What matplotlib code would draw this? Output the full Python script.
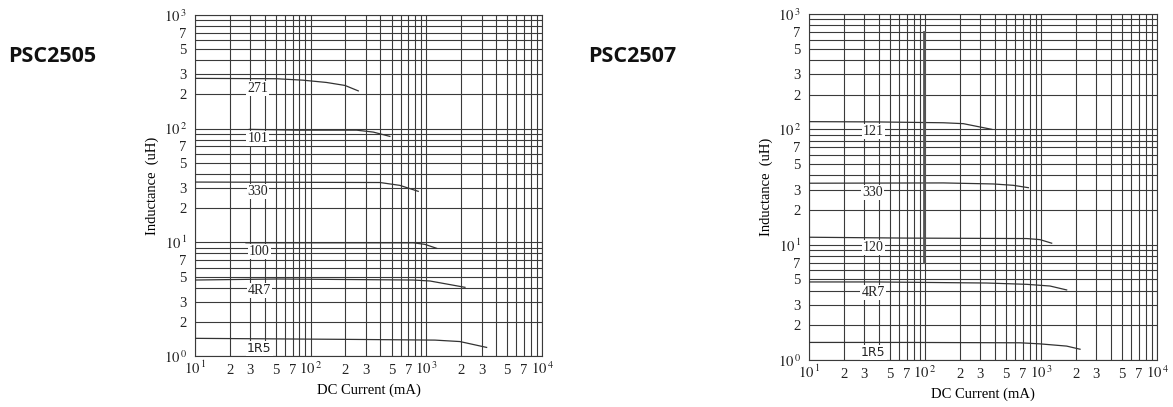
import matplotlib
matplotlib.use("Agg")
import matplotlib.pyplot as plt
from matplotlib.ticker import FixedLocator, FuncFormatter

plt.rcParams['font.family'] = ['Liberation Serif', 'DejaVu Serif']
plt.rcParams['mathtext.fontset'] = 'stix'

# ---------------- data: PSC2505 ----------------
c2505_271_x = [10, 50.8, 86, 137, 198, 258]
c2505_271_y = [277, 275, 267, 255, 240, 215]
c2505_101_x = [29.5, 75.6, 250, 348, 484]
c2505_101_y = [98.6, 97, 97, 93.3, 85.5]
c2505_330_x = [10, 397, 591, 851]
c2505_330_y = [33.9, 33.6, 31.7, 28.1]
c2505_100_x = [27.6, 771, 973, 1227]
c2505_100_y = [9.9, 9.9, 9.6, 8.86]
c2505_4R7_x = [10, 50.8, 771, 1075, 2157]
c2505_4R7_y = [4.66, 4.76, 4.66, 4.57, 4.02]
c2505_1R5_x = [10, 219, 1186, 1950, 3320]
c2505_1R5_y = [1.43, 1.40, 1.38, 1.34, 1.19]
labels_2505 = ["271", "101", "330", "100", "4R7", "1R5"]
label_x_2505 = [35, 35, 35, 36, 36, 36]
label_y_2505 = [226, 82, 27.9, 8.27, 3.75, 1.17]

# ---------------- data: PSC2507 ----------------
c2507_121_x = [10, 37, 144, 214, 376]
c2507_121_y = [116.6, 116, 114, 112, 100]
c2507_330_x = [10, 144, 388, 577, 778]
c2507_330_y = [34.1, 34.3, 33.6, 32.7, 31.2]
c2507_120_x = [10, 71.8, 753, 980, 1236]
c2507_120_y = [11.6, 11.4, 11.3, 11.06, 10.3]
c2507_4R7_x = [10, 37, 340, 753, 1196, 1664]
c2507_4R7_y = [4.75, 4.75, 4.65, 4.53, 4.38, 4.05]
c2507_1R5_x = [10, 70, 659, 980, 1664, 2170]
c2507_1R5_y = [1.42, 1.42, 1.41, 1.38, 1.32, 1.24]
labels_2507 = ["121", "330", "120", "4R7", "1R5"]
label_x_2507 = [35.8, 35.5, 35.8, 35.7, 35.7]
label_y_2507 = [95.5, 28.3, 9.5, 3.87, 1.17]
# stray vertical mark in the PSC2507 chart
mark_x_2507 = [99, 99]
mark_y_2507 = [704, 7.1]

x_range = (10, 1e4)
y_range = (1, 1e3)
minor_label_digits = [2, 3, 5, 7]

fig = plt.figure(figsize=(11.73, 4.07), dpi=100)


def setup_axes(ax):
    import math
    ax.set_xscale('log')
    ax.set_yscale('log')
    ax.set_xlim(*x_range)
    ax.set_ylim(*y_range)
    xmaj = [10 ** k for k in range(1, 5)]
    ymaj = [10 ** k for k in range(0, 4)]
    xmin = [m * 10 ** k for k in range(1, 4) for m in range(2, 10)]
    ymin = [m * 10 ** k for k in range(0, 3) for m in range(2, 10)]
    ax.xaxis.set_major_locator(FixedLocator(xmaj))
    ax.yaxis.set_major_locator(FixedLocator(ymaj))
    ax.xaxis.set_minor_locator(FixedLocator(xmin))
    ax.yaxis.set_minor_locator(FixedLocator(ymin))

    def majfmt(v, pos):
        return r"$10^{\,%d}$" % round(math.log10(v))

    def minfmt(v, pos):
        m = round(v / 10 ** math.floor(math.log10(v) + 1e-9))
        return str(m) if m in minor_label_digits else ""

    ax.xaxis.set_major_formatter(FuncFormatter(majfmt))
    ax.yaxis.set_major_formatter(FuncFormatter(majfmt))
    ax.xaxis.set_minor_formatter(FuncFormatter(minfmt))
    ax.yaxis.set_minor_formatter(FuncFormatter(minfmt))
    ax.tick_params(which='both', length=0, labelsize=10.5, colors='#222222')
    ax.tick_params(axis='x', which='minor', pad=6)
    ax.tick_params(axis='x', which='major', pad=3)
    ax.tick_params(axis='y', which='both', pad=6)
    ax.grid(which='both', color='#3a3a3a', linewidth=0.8)
    for s in ax.spines.values():
        s.set_color('#3a3a3a')
        s.set_linewidth(0.8)
    ax.set_axisbelow(True)
    ax.set_xlabel("DC Current (mA)", fontsize=10.5, labelpad=4)
    ax.set_ylabel("Inductance  (uH)", fontsize=10.5, labelpad=3)


def draw_curves(ax, curves, labels, lx, ly):
    for xs, ys in curves:
        ax.plot(xs, ys, color='#333333', linewidth=0.9, zorder=3)
    for t, x, y in zip(labels, lx, ly):
        fam = ['DejaVu Sans'] if t == "1R5" else ['Liberation Serif']
        ax.text(x, y, t, fontsize=10 if t != "1R5" else 9, family=fam,
                ha='center', va='center', zorder=4, color='#222222',
                bbox=dict(facecolor='white', edgecolor='none', pad=0.8))


ax1 = fig.add_axes([195 / 1173, 1 - 356 / 407, 347 / 1173, 341 / 407])
setup_axes(ax1)
draw_curves(ax1, [(c2505_271_x, c2505_271_y), (c2505_101_x, c2505_101_y),
                  (c2505_330_x, c2505_330_y), (c2505_100_x, c2505_100_y),
                  (c2505_4R7_x, c2505_4R7_y), (c2505_1R5_x, c2505_1R5_y)],
            labels_2505, label_x_2505, label_y_2505)

ax2 = fig.add_axes([809 / 1173, 1 - 360 / 407, 348 / 1173, 346 / 407])
setup_axes(ax2)
draw_curves(ax2, [(c2507_121_x, c2507_121_y), (c2507_330_x, c2507_330_y),
                  (c2507_120_x, c2507_120_y), (c2507_4R7_x, c2507_4R7_y),
                  (c2507_1R5_x, c2507_1R5_y)],
            labels_2507, label_x_2507, label_y_2507)
ax2.plot(mark_x_2507, mark_y_2507, color='#555555', linewidth=2.0, zorder=3)

fig.text(8 / 1173, 1 - 56 / 407, "PSC2505", family=['Open Sans', 'DejaVu Sans'],
         fontweight='bold', fontsize=15.5, va='center', ha='left', color='#111111')
fig.text(588 / 1173, 1 - 56 / 407, "PSC2507", family=['Open Sans', 'DejaVu Sans'],
         fontweight='bold', fontsize=15.5, va='center', ha='left', color='#111111')

fig.savefig("out.png", dpi=100, facecolor='white')
